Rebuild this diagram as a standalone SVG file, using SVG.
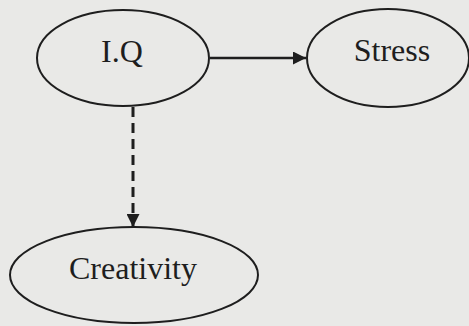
<svg xmlns="http://www.w3.org/2000/svg" width="469" height="326" viewBox="0 0 469 326">
<defs>
<style>
.node ellipse{fill:none;stroke:#1e1e1e;stroke-width:2}
.node text{font-family:"Liberation Serif","Times New Roman",serif;font-size:32px;fill:#1e1e1e;text-anchor:middle}
.edge{stroke:#1e1e1e;stroke-width:2.5;fill:none}
.dashed{stroke-width:3;stroke-dasharray:10,6}
</style>
<marker id="ah" viewBox="0 0 10 10" refX="10" refY="5" markerWidth="16" markerHeight="13" markerUnits="userSpaceOnUse" orient="auto">
<path d="M0,0 L10,5 L0,10 Z" fill="#1e1e1e"/>
</marker>
</defs>
<rect width="469" height="326" fill="#e9e9e7"/>
<g id="connectors">
<line class="edge" x1="210" y1="58" x2="306" y2="58" marker-end="url(#ah)"/>
<line class="edge dashed" x1="133" y1="107" x2="133" y2="227" marker-end="url(#ah)"/>
</g>
<g id="iq" class="node">
<ellipse cx="123" cy="58" rx="86" ry="48"/>
<text x="122" y="62">I.Q</text>
</g>
<g id="stress" class="node">
<ellipse cx="388" cy="58" rx="81" ry="49"/>
<text x="392" y="61">Stress</text>
</g>
<g id="creativity" class="node">
<ellipse cx="134" cy="275" rx="124" ry="48"/>
<text x="133" y="279">Creativity</text>
</g>
</svg>
